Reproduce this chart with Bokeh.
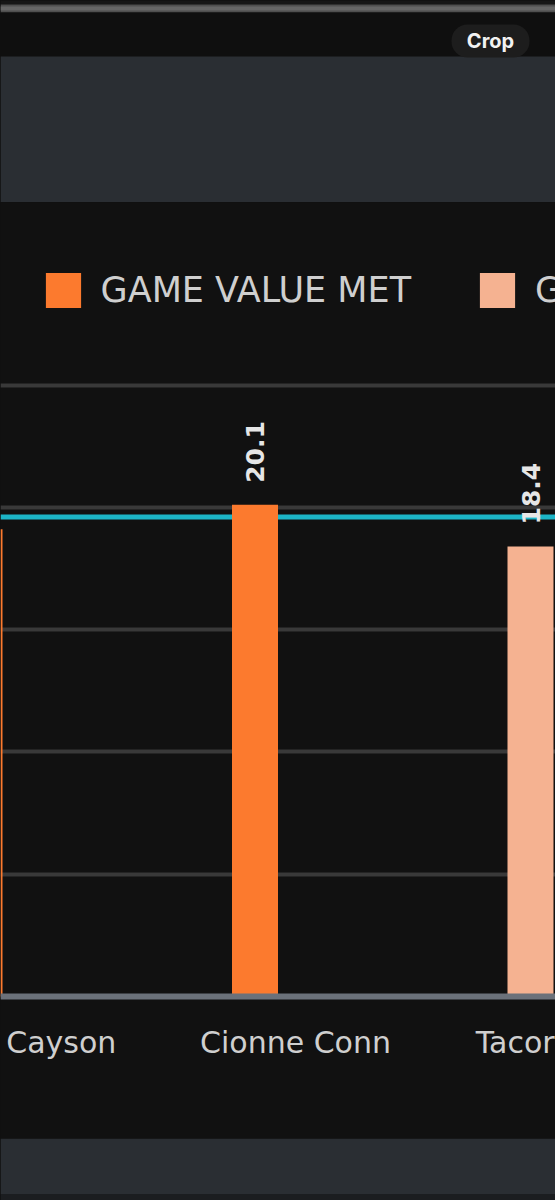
import math

from bokeh.core.properties import value
from bokeh.embed import file_html
from bokeh.layouts import column
from bokeh.models import (ColumnDataSource, Legend, LegendItem, Range1d,
                          SingleIntervalTicker, Span)
from bokeh.plotting import figure
from bokeh.resources import INLINE

# ---- data -------------------------------------------------------------
players = ["Jalen Cayson", "Cionne Conn", "Tacorey Mills"]
game_values = [19.1, 20.1, 18.4]
value_met = [True, True, False]
target_value = 19.6
series_labels = ["GAME VALUE MET", "GAME VALUE NOT MET"]

# ---- styling ----------------------------------------------------------
W = 555
BG = "#111111"
PANEL = "#2a2e33"
MET_COLOR = "#fc7a2e"
NOT_MET_COLOR = "#f5b291"
TARGET_COLOR = "#1cb4c6"
GRID_COLOR = "#393939"
AXIS_COLOR = "#6b717a"
TEXT_COLOR = "#cfcfcf"
FONT = "DejaVu Sans"

HEADER_H = 202
CHART_H = 936
FOOTER_H = 62
ZERO_PX = 794          # distance from chart top to the zero line
PX_PER_UNIT = 24.46    # vertical scale
CAT_PX = 275.5         # horizontal spacing between players
BAR_PX = 46
BAR_SHIFT_PX = 40.5    # bars sit left of the label centre


def chrome_fig(h):
    f = figure(width=W, height=h, output_backend="svg", toolbar_location=None,
               x_range=Range1d(0, W), y_range=Range1d(h, 0),
               min_border=0, outline_line_color=None,
               background_fill_color=BG, border_fill_color=BG)
    f.axis.visible = False
    f.grid.visible = False
    return f


# ---- header bar ---------------------------------------------------------
header = chrome_fig(HEADER_H)
header.quad(left=0, right=W, top=0, bottom=4, fill_color="#161616", line_color=None)
header.quad(left=0, right=W, top=4, bottom=12, fill_color="#4f4f4f", line_color=None)
header.quad(left=0, right=W, top=6, bottom=10, fill_color="#666666", line_color=None)
header.quad(left=0, right=W, top=12, bottom=56, fill_color="#0f0f0f", line_color=None)
header.quad(left=0, right=W, top=56, bottom=HEADER_H, fill_color=PANEL, line_color=None)
header.quad(left=451, right=529, top=24, bottom=57, fill_color="#1d1d1d",
            line_color=None, border_radius=16)
header.text(x=[490], y=[40.5], text=["Crop"], text_align="center", text_baseline="middle",
            text_color="#f2f2f2", text_font=value("Inter"), text_font_style="bold",
            text_font_size="20px")

# ---- chart ------------------------------------------------------------
y_top = ZERO_PX / PX_PER_UNIT
y_bottom = -(CHART_H - ZERO_PX) / PX_PER_UNIT
x_start = 1 - 295 / CAT_PX
x_end = x_start + W / CAT_PX

p = figure(width=W, height=CHART_H, output_backend="svg", toolbar_location=None,
           x_range=Range1d(x_start, x_end), y_range=Range1d(y_bottom, y_top),
           min_border=0, background_fill_color=BG, border_fill_color=BG,
           outline_line_color=None)
p.axis.visible = False

idx = list(range(len(players)))
bar_x = [i - BAR_SHIFT_PX / CAT_PX for i in idx]
bar_w = BAR_PX / CAT_PX

# target line sits behind the bars
p.add_layout(Span(location=target_value, dimension="width", level="underlay",
                  line_color=TARGET_COLOR, line_width=5))

met_src = ColumnDataSource(dict(
    x=[bx for bx, m in zip(bar_x, value_met) if m],
    v=[v for v, m in zip(game_values, value_met) if m]))
not_src = ColumnDataSource(dict(
    x=[bx for bx, m in zip(bar_x, value_met) if not m],
    v=[v for v, m in zip(game_values, value_met) if not m]))

r_met = p.vbar(x="x", top="v", bottom=0, width=bar_w, source=met_src,
               fill_color=MET_COLOR, line_color=None)
r_not = p.vbar(x="x", top="v", bottom=0, width=bar_w, source=not_src,
               fill_color=NOT_MET_COLOR, line_color=None)

# value labels above each bar, rotated
lbl_src = ColumnDataSource(dict(x=bar_x, v=game_values, t=[f"{v:.1f}" for v in game_values]))
p.text(x="x", y="v", text="t", source=lbl_src, angle=math.pi / 2,
       text_align="left", text_baseline="middle", y_offset=-22,
       text_color="#e6e6e6", text_font=value(FONT), text_font_style="bold",
       text_font_size="25px")

# horizontal grid
p.ygrid.visible = True
p.ygrid.ticker = SingleIntervalTicker(interval=5)
p.ygrid.bounds = (0, 25)
p.ygrid.grid_line_color = GRID_COLOR
p.ygrid.grid_line_width = 4
p.xgrid.visible = False

# category baseline and player names
p.add_layout(Span(location=0, dimension="width", line_color=AXIS_COLOR, line_width=6))
name_src = ColumnDataSource(dict(x=idx, y=[0] * len(idx), t=players))
p.text(x="x", y="y", text="t", source=name_src, text_align="center",
       text_baseline="alphabetic", y_offset=46, text_color=TEXT_COLOR,
       text_font=value(FONT), text_font_size="30px")

# legend
legend = Legend(items=[LegendItem(label=series_labels[0], renderers=[r_met]),
                       LegendItem(label=series_labels[1], renderers=[r_not])],
                orientation="horizontal", location=(40.6, CHART_H - 110.4),
                padding=0, margin=0, spacing=64,
                glyph_width=44, glyph_height=44, label_standoff=16,
                label_text_font=FONT, label_text_font_size="35px",
                label_text_color=TEXT_COLOR,
                background_fill_alpha=0, border_line_color=None)
p.add_layout(legend)

# ---- footer bar ---------------------------------------------------------
footer = chrome_fig(FOOTER_H)
footer.quad(left=0, right=W, top=0, bottom=56, fill_color=PANEL, line_color=None)
footer.quad(left=0, right=W, top=56, bottom=FOOTER_H, fill_color="#1b1d20", line_color=None)

layout = column(header, p, footer, spacing=0, styles={"background-color": BG})
open("out.html", "w").write(file_html(layout, INLINE))
